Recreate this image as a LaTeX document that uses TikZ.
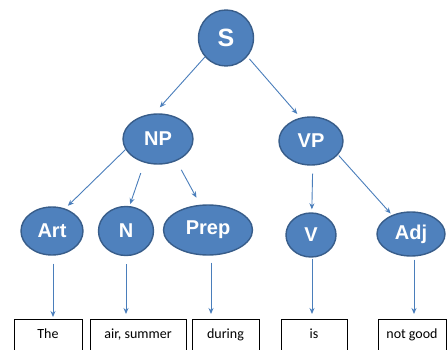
\documentclass[tikz,border=0pt]{standalone}
\usepackage{fontspec}
\usetikzlibrary{shapes.geometric,arrows.meta}
\newfontfamily\nodefont{Liberation Sans}
\newfontfamily\leaffont{Carlito}
\definecolor{nfill}{HTML}{4F81BD}
\definecolor{nborder}{HTML}{385D8A}
\definecolor{arr}{HTML}{4A7EBB}
\begin{document}
\begin{tikzpicture}[x=1pt,y=-1pt,
  cat/.style={ellipse,draw=nborder,fill=nfill,line width=1.4pt,inner sep=0pt,
    text=white,font=\nodefont\bfseries\fontsize{20}{24}\selectfont},
  leaf/.style={rectangle,draw=black,line width=0.8pt,anchor=north,inner xsep=0pt,inner ysep=0pt,
    text height=19pt,text depth=35pt,font=\leaffont\fontsize{14}{16}\selectfont},
  link/.style={draw=arr,line width=0.9pt,-{Stealth[length=6pt,width=5pt]}}]
\useasboundingbox (0,0) rectangle (447,350);
\clip (0,0) rectangle (447,350);
% category nodes
\node[cat,minimum width=55pt,minimum height=56pt,font=\nodefont\bfseries\fontsize{25}{30}\selectfont] (S) at (226,38) {S};
\node[cat,minimum width=70pt,minimum height=50pt] (NP) at (158,139) {NP};
\node[cat,minimum width=64pt,minimum height=48pt] (VP) at (311,141) {VP};
\node[cat,minimum width=62pt,minimum height=48pt] (Art) at (52,231) {Art};
\node[cat,minimum width=55pt,minimum height=49pt] (N) at (126,231) {N};
\node[cat,minimum width=89pt,minimum height=50pt] (Prep) at (208,230) {Prep};
\node[cat,minimum width=50pt,minimum height=44pt] (V) at (311,235) {V};
\node[cat,minimum width=68pt,minimum height=44pt] (Adj) at (411,234) {Adj};
% leaf boxes
\node[leaf,minimum width=68pt] (The) at (48,319) {The};
\node[leaf,minimum width=96pt] (air) at (138,319) {air, summer};
\node[leaf,minimum width=67pt] (during) at (225.5,319) {during};
\node[leaf,minimum width=66pt] (is) at (314,319) {is};
\node[leaf,minimum width=68pt] (notgood) at (412,319) {not good};
% connectors
\draw[link] (S.222) -- ([shift={(0,-6)}]NP.86);
\draw[link,shorten <=3pt] (S.319) -- ([shift={(-2,-4)}]VP.117);
\draw[link] (NP.198) -- ([shift={(2,-3)}]Art.58);
\draw[link,shorten <=11pt,shorten >=2pt] (NP.240) -- (N.82);
\draw[link,shorten <=10pt,shorten >=8pt] (NP.310) -- (Prep.107);
\draw[link,shorten <=8pt,shorten >=3pt] (VP.274) -- (V.88);
\draw[link,shorten <=1pt,shorten >=2pt] (VP.333) -- (Adj.135);
\draw[link,shorten <=8pt,shorten >=2pt] ([xshift=1pt]Art.south) -- ([xshift=1pt]Art.south |- The.north);
\draw[link,shorten <=8pt,shorten >=5pt] (N.south) -- (N.south |- air.north);
\draw[link,shorten <=7pt,shorten >=5pt] ([xshift=3pt]Prep.south) -- ([xshift=3pt]Prep.south |- during.north);
\draw[link,shorten <=1pt,shorten >=5pt] ([xshift=1pt]V.south) -- ([xshift=1pt]V.south |- is.north);
\draw[link,shorten <=3pt,shorten >=5pt] ([xshift=3pt]Adj.south) -- ([xshift=3pt]Adj.south |- notgood.north);
\end{tikzpicture}
\end{document}
